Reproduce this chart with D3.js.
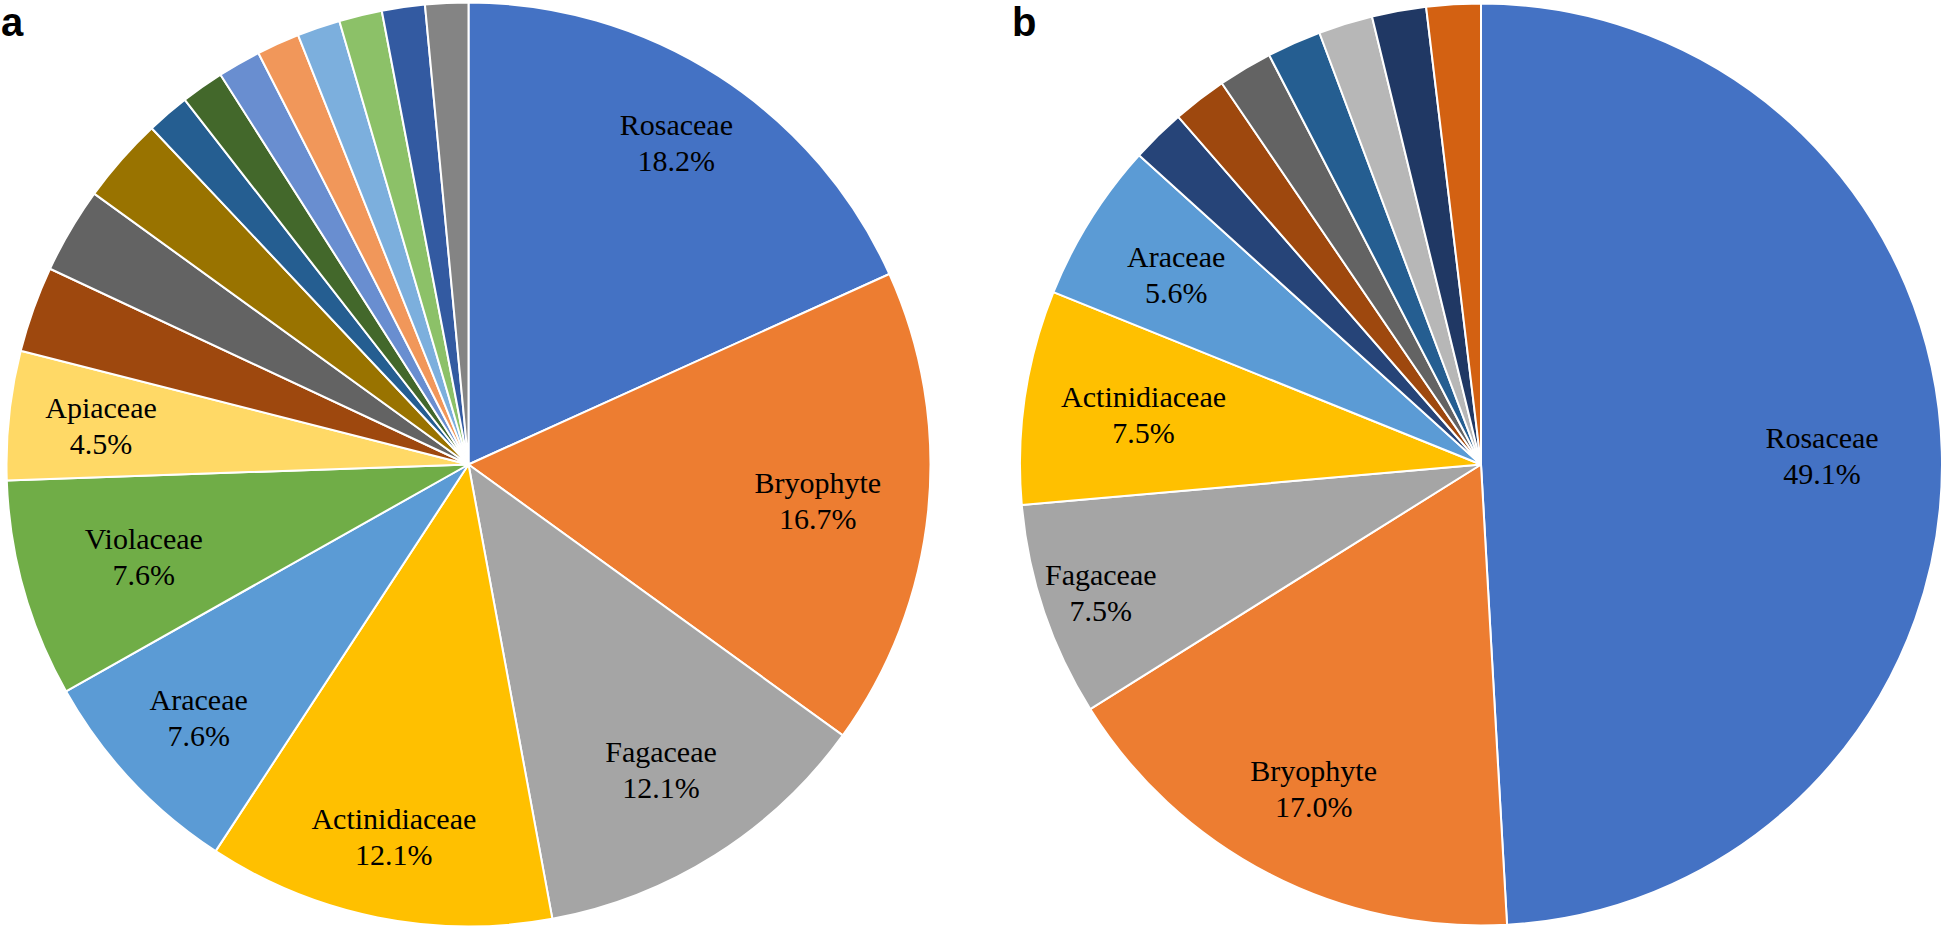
<!DOCTYPE html>
<html>
<head>
<meta charset="utf-8">
<script src="https://cdn.jsdelivr.net/npm/d3@7"></script>
<style>
  html, body { margin: 0; padding: 0; background: #ffffff; }
  svg { display: block; }
  .lbl { font-family: "Liberation Serif", "Times New Roman", serif; font-size: 30px; }
  .letter { font-family: "Liberation Sans", Arial, "DejaVu Sans", sans-serif; font-weight: bold; font-size: 40px; }
</style>
</head>
<body>
<svg id="chart" width="1946" height="930"></svg>
<script>
// ---- Data: panel a ----
const categoriesA = ["Rosaceae", "Bryophyte", "Fagaceae", "Actinidiaceae", "Araceae", "Violaceae", "Apiaceae",
  "", "", "", "", "", "", "", "", "", "", ""];
const valuesA = [18.2, 16.7, 12.1, 12.1, 7.6, 7.6, 4.5, 3.0, 3.0, 3.0, 1.5, 1.5, 1.5, 1.5, 1.5, 1.5, 1.5, 1.5];
const colorsA = ["#4472C4", "#ED7D31", "#A5A5A5", "#FFC000", "#5B9BD5", "#70AD47", "#FFD966",
  "#9E480E", "#636363", "#997300", "#255E91", "#43682B", "#698ED0", "#F1975A", "#7CAFDD", "#8CC168", "#335AA1", "#848484"];

// ---- Data: panel b ----
const categoriesB = ["Rosaceae", "Bryophyte", "Fagaceae", "Actinidiaceae", "Araceae",
  "", "", "", "", "", "", ""];
const valuesB = [49.1, 17.0, 7.5, 7.5, 5.6, 1.9, 1.9, 1.9, 1.9, 1.9, 1.9, 1.9];
const colorsB = ["#4472C4", "#ED7D31", "#A5A5A5", "#FFC000", "#5B9BD5",
  "#264478", "#9E480E", "#636363", "#255E91", "#B7B7B7", "#203864", "#D36112"];

// ---- Layout (label distance as fraction of radius) ----
const labelFactorA = [0.83, 0.76, 0.78, 0.82, 0.80, 0.73, 0.80];
const labelFactorB = [0.74, 0.79, 0.87, 0.74, 0.78];

const svg = d3.select("#chart");

function drawPie(cx, cy, r, cats, vals, cols, factors, letter, lx) {
  const g = svg.append("g").attr("transform", `translate(${cx},${cy})`);
  const data = vals.map((v, i) => ({ name: cats[i], value: v, color: cols[i], f: factors[i] || 0.78 }));
  const pie = d3.pie().sort(null).value(d => d.value).startAngle(0).endAngle(2 * Math.PI);
  const arcs = pie(data);
  const arc = d3.arc().innerRadius(0).outerRadius(r);

  g.selectAll("path.slice").data(arcs).enter().append("path")
    .attr("class", "slice")
    .attr("d", arc)
    .attr("fill", d => d.data.color)
    .attr("stroke", "#ffffff")
    .attr("stroke-width", 2)
    .attr("stroke-linejoin", "round");

  const lab = g.selectAll("text.lbl").data(arcs.filter(d => d.data.name)).enter().append("text")
    .attr("class", "lbl")
    .attr("text-anchor", "middle")
    .attr("fill", "#000000")
    .attr("transform", d => {
      const a = (d.startAngle + d.endAngle) / 2;
      const rr = r * d.data.f;
      return `translate(${Math.sin(a) * rr},${-Math.cos(a) * rr})`;
    });
  lab.append("tspan").attr("x", 0).attr("y", -7).text(d => d.data.name);
  lab.append("tspan").attr("x", 0).attr("y", 29).text(d => d3.format(".1f")(d.data.value) + "%");

  svg.append("text")
    .attr("class", "letter")
    .attr("x", lx).attr("y", 36)
    .attr("fill", "#000000")
    .text(letter);
}

drawPie(468.5, 464.5, 462, categoriesA, valuesA, colorsA, labelFactorA, "a", 1);
drawPie(1481, 464.5, 461, categoriesB, valuesB, colorsB, labelFactorB, "b", 1012);
</script>
</body>
</html>
